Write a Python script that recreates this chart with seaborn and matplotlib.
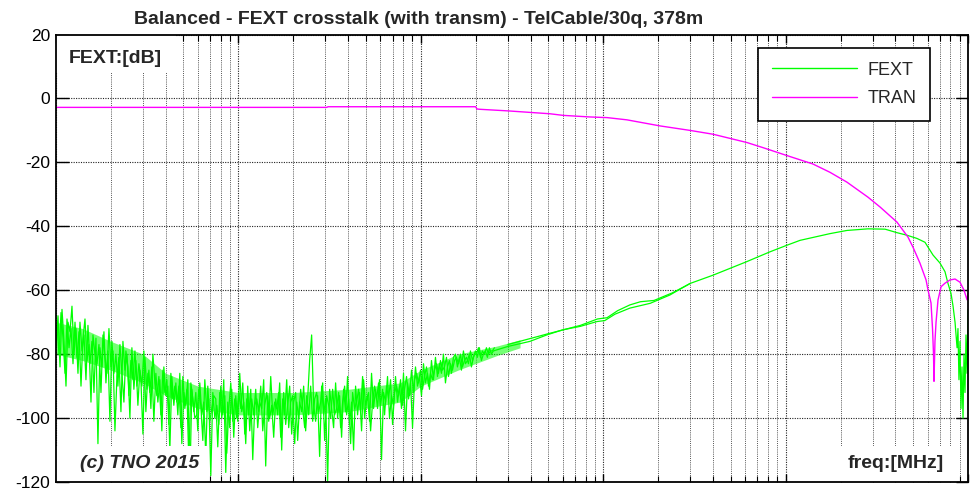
import numpy as np
import pandas as pd
import matplotlib
matplotlib.use("Agg")
import matplotlib.pyplot as plt
import seaborn as sns
from matplotlib.ticker import LogLocator, NullFormatter, FixedLocator
from matplotlib.patches import Rectangle
from matplotlib.lines import Line2D

TITLE = "Balanced - FEXT crosstalk (with transm) - TelCable/30q, 378m"
Y_LABEL = "FEXT:[dB]"
X_LABEL = "freq:[MHz]"
COPYRIGHT = "(c) TNO 2015"
SERIES = ["FEXT", "TRAN"]
Y_TICKS = [-120, -100, -80, -60, -40, -20, 0, 20]
X_RANGE = (1e-3, 100.0)

# FEXT, noisy low-frequency part: values (dB),
# measured on a log sweep from 0.001 MHz to 0.25 MHz (two overlapping traces)
FEXT_NOISY_SPAN = (0.001, 0.25)
fext_noisy_db = [
    -78, -68, -84, -66, -76, -90, -70, -73, -65, -80,
    -72, -86, -70, -79, -74, -88, -71, -83, -76, -92,
    -75, -108, -78, -84, -73, -89, -79, -101, -76, -86,
    -80, -90, -77, -86, -95, -79, -84, -100, -78, -91,
    -82, -96, -85, -90, -79, -98, -86, -92, -84, -101,
    -86, -95, -88, -104, -84, -93, -90, -110, -87, -96,
    -89, -99, -86, -108, -92, -96, -88, -121, -91, -98,
    -92, -104, -89, -99, -95, -112, -90, -101, -97, -93,
    -94, -109, -92, -100, -88, -117, -95, -103, -91, -106,
    -93, -101, -86, -98, -95, -108, -90, -104, -94, -99,
    -91, -103, -95, -97, -88, -115, -93, -100, -96, -106,
    -94, -99, -89, -110, -92, -102, -96, -90, -105, -95,
    -92, -107, -95, -98, -90, -104, -94, -82, -74, -96,
    -101, -93, -112, -90, -99, -94, -120, -91, -97, -103,
    -89, -100, -93, -106, -91, -98, -87, -102, -95, -110,
    -90, -99, -92, -104, -88, -96, -93, -101, -86, -97,
    -91, -97, -88, -113, -92, -95, -87, -100, -93, -96,
    -87, -95, -90, -97, -86, -104, -89, -93, -85, -92,
    -84, -90, -87, -93, -83, -89, -86, -91, -82, -88,
    -81, -87, -83, -86, -80, -89, -84, -82, -86, -81,
    -80, -84, -81, -85, -79, -83, -82, -80, -84, -81,
    -79, -81, -78, -82, -80, -79, -81, -78, -80, -79,
]
FEXT_NOISY_SPAN_B = (0.001013, 0.2533)
fext_noisy_db_b = [
    -71, -80, -67, -75, -86, -69, -78, -72, -83, -70,
    -81, -73, -90, -75, -69, -82, -77, -95, -74, -80,
    -83, -77, -92, -74, -81, -86, -72, -84, -79, -104,
    -87, -81, -98, -76, -85, -80, -93, -82, -88, -79,
    -90, -83, -88, -105, -81, -91, -85, -97, -80, -89,
    -93, -87, -99, -85, -92, -88, -102, -86, -94, -90,
    -95, -90, -103, -87, -97, -91, -114, -89, -94, -100,
    -99, -91, -96, -107, -88, -98, -94, -118, -92, -100,
    -96, -102, -90, -99, -93, -111, -97, -89, -101, -94,
    -100, -92, -97, -89, -105, -94, -99, -91, -113, -96,
    -94, -98, -90, -104, -96, -92, -101, -87, -99, -95,
    -97, -92, -106, -94, -99, -88, -103, -95, -93, -108,
    -95, -100, -91, -97, -103, -93, -99, -90, -101, -94,
    -92, -98, -95, -89, -107, -93, -96, -100, -91, -99,
    -97, -92, -103, -95, -90, -99, -94, -108, -92, -97,
    -95, -91, -98, -87, -100, -94, -92, -104, -95, -90,
    -94, -89, -96, -91, -99, -90, -94, -88, -102, -92,
    -90, -93, -88, -96, -91, -87, -94, -89, -103, -88,
    -86, -89, -85, -91, -87, -84, -90, -86, -88, -85,
    -83, -86, -82, -85, -84, -81, -87, -83, -85, -82,
    -81, -83, -80, -84, -82, -81, -83, -79, -82, -80,
    -80, -78, -81, -79, -80, -78, -80, -79, -79, -78,
]

# FEXT, smooth high-frequency part
fext_smooth_f = [0.30, 0.397, 0.49, 0.60, 0.75, 0.925, 1.02, 1.16, 1.40, 1.81,
                 2.32, 2.99, 4.0, 6.1, 8.2, 10.2, 12.0, 14.1, 17.5, 21.7,
                 28.3, 35.1, 40.8, 46.3, 52.5, 58.1, 64.3, 70.2, 74.8, 77.6,
                 80.7, 82.8, 84.9, 87.1, 88.1, 89.2, 90.4, 91.5, 92.7, 93.9,
                 95.1, 96.3, 97.5, 98.8, 100.0]
fext_smooth_db = [-77.6, -76.0, -74.0, -72.4, -71.3, -69.8, -69.5, -67.5, -65.6, -64.1,
                  -61.5, -57.9, -55.3, -51.1, -48.0, -45.9, -44.4, -43.5, -42.3, -41.3,
                  -40.8, -40.9, -42.0, -42.8, -43.8, -45.0, -49.0, -51.5, -54.2, -57.8,
                  -61.0, -65.0, -70.0, -78.0, -72.0, -88.0, -76.0, -97.0, -84.0, -100.0,
                  -80.0, -92.0, -74.0, -86.0, -66.0]

# second FEXT trace where the traces separate
fext2_f = [0.30, 0.50, 0.75, 0.93, 1.05, 1.20, 1.40, 1.60, 1.90, 2.40, 3.0]
fext2_db = [-77.0, -73.6, -71.0, -69.0, -68.6, -66.4, -64.6, -63.6, -63.2, -60.8, -57.9]

# dense core of the noisy FEXT band
band_f = [0.001, 0.0014, 0.002, 0.003, 0.004, 0.006, 0.01, 0.02, 0.04, 0.077, 0.1, 0.16, 0.26, 0.35]
band_lo = [-80, -82, -85, -89, -93, -97, -99, -99, -98, -95, -90, -85, -80.5, -78]
band_hi = [-70, -72, -76, -80, -86, -90, -92, -92, -91, -89, -85, -80, -77.5, -75.5]

# TRAN (transmission)
tran_f = [0.001, 0.0305, 0.031, 0.200, 0.203, 0.211, 0.301, 0.511, 0.603, 0.847,
          1.05, 1.35, 2.05, 2.99, 4.0, 6.14, 7.52, 10.2, 14.1, 17.5,
          21.7, 28.3, 33.0, 40.8, 46.9, 49.9, 54.5, 58.9, 60.4, 62.7,
          63.9, 64.7, 65.1, 65.9, 66.8, 68.5, 71.2, 74.8, 79.6, 84.9,
          90.4, 95.1, 98.8, 100.0]
tran_db = [-2.8, -2.8, -2.6, -2.6, -3.3, -3.4, -3.9, -4.8, -5.3, -5.8,
           -6.0, -6.7, -8.6, -10.0, -11.2, -13.8, -15.4, -17.9, -20.5, -23.1,
           -26.2, -30.9, -34.0, -38.7, -43.4, -46.5, -51.5, -56.8, -60.0, -64.0,
           -72.0, -80.0, -88.5, -76.0, -70.0, -63.0, -58.9, -57.8, -56.8, -56.5,
           -57.5, -60.0, -63.0, -61.0]

GREEN = "#00ff00"
MAGENTA = "#ff00ff"

sns.set_theme(style="white")
plt.rcParams.update({
    "font.family": ["Liberation Sans", "DejaVu Sans"],
    "axes.unicode_minus": False,
})

W, H = 978, 490
fig = plt.figure(figsize=(W / 100, H / 100), dpi=100)
fig.patch.set_facecolor("white")
L, R, T, B = 56, 968, 34.5, 482
ax = fig.add_axes([L / W, 1 - B / H, (R - L) / W, (B - T) / H])
ax.set_facecolor("white")

def fig_xy(x, y):
    return x / W, 1 - y / H

fext_df = pd.DataFrame({
    "freq": np.concatenate([np.geomspace(*FEXT_NOISY_SPAN, len(fext_noisy_db)), fext_smooth_f]),
    "db": np.concatenate([fext_noisy_db, fext_smooth_db]),
})
fext_b_df = pd.DataFrame({
    "freq": np.geomspace(*FEXT_NOISY_SPAN_B, len(fext_noisy_db_b)),
    "db": fext_noisy_db_b,
})
fext2_df = pd.DataFrame({"freq": fext2_f, "db": fext2_db})
tran_df = pd.DataFrame({"freq": tran_f, "db": tran_db})

ax.set_xscale("log")
ax.fill_between(band_f, band_lo, band_hi, color=GREEN, alpha=0.55, lw=0, zorder=2)
for d in (fext_b_df, fext_df, fext2_df):
    sns.lineplot(data=d, x="freq", y="db", ax=ax, color=GREEN, lw=0.9,
                 estimator=None, sort=False, legend=False, zorder=3)
sns.lineplot(data=tran_df, x="freq", y="db", ax=ax, color=MAGENTA, lw=1.0,
             estimator=None, sort=False, legend=False, zorder=3)

ax.set_xlim(*X_RANGE)
ax.set_ylim(Y_TICKS[0], Y_TICKS[-1])
ax.yaxis.set_major_locator(FixedLocator(Y_TICKS))
ax.set_yticklabels([str(v) for v in Y_TICKS])
ax.xaxis.set_major_locator(LogLocator(base=10, numticks=20))
ax.xaxis.set_minor_locator(LogLocator(base=10, subs=np.arange(2, 10), numticks=200))
ax.xaxis.set_major_formatter(NullFormatter())
ax.xaxis.set_minor_formatter(NullFormatter())
ax.set_xlabel("")
ax.set_ylabel("")

ax.set_axisbelow(True)
ax.grid(which="major", axis="both", linestyle=(0, (1, 1.2)), color="#222222", lw=0.8)
ax.grid(which="minor", axis="x", linestyle=(0, (1, 1.2)), color="#555555", lw=0.7)

ax.tick_params(axis="x", which="major", direction="in", top=True, bottom=True,
               length=6, width=1, color="black", labelbottom=False)
ax.tick_params(axis="x", which="minor", direction="in", top=True, bottom=True,
               length=4, width=0.8, color="black")
ax.tick_params(axis="y", which="major", direction="in", left=True, right=True,
               length=9, width=1, color="black", labelsize=12.5, pad=4, labelcolor="black")

for s in ax.spines.values():
    s.set_color("black")
    s.set_linewidth(1.3)
    s.set_zorder(10)

# white label boxes inside the plot area
ax.add_patch(Rectangle((0, 1 - 38.5 / 447.5), 119 / 912, 38.5 / 447.5,
                       transform=ax.transAxes, fc="white", ec="none", zorder=5))
ax.add_patch(Rectangle((0, 0), 151 / 912, 36 / 447.5,
                       transform=ax.transAxes, fc="white", ec="none", zorder=5))
ax.add_patch(Rectangle((782 / 912, 0), 119 / 912, 36 / 447.5,
                       transform=ax.transAxes, fc="white", ec="none", zorder=5))

fig.text(*fig_xy(69, 63.3), Y_LABEL, fontsize=14, fontweight="bold", ha="left",
         va="baseline", zorder=6)
fig.text(*fig_xy(80, 468.3), COPYRIGHT, fontsize=14, fontweight="bold", fontstyle="italic",
         ha="left", va="baseline", zorder=6)
fig.text(*fig_xy(848, 468.3), X_LABEL, fontsize=14, fontweight="bold", ha="left",
         va="baseline", zorder=6)
fig.text(*fig_xy(419, 24), TITLE, fontsize=14, fontweight="bold", ha="center",
         va="baseline")

handles = [Line2D([], [], color=GREEN, lw=1.0), Line2D([], [], color=MAGENTA, lw=1.0)]
leg = ax.legend(handles, SERIES, loc="upper right",
                bbox_to_anchor=((930 - L) / (R - L), (B - 48) / (B - T)),
                bbox_transform=ax.transAxes, borderaxespad=0,
                fontsize=13, handlelength=4.7, handletextpad=0.6,
                labelspacing=0.65, borderpad=0.75, frameon=True, fancybox=False,
                edgecolor="black", facecolor="white", framealpha=1)
leg.get_frame().set_linewidth(1.2)
leg.set_zorder(12)

fig.savefig("out.png", dpi=100, facecolor="white")
